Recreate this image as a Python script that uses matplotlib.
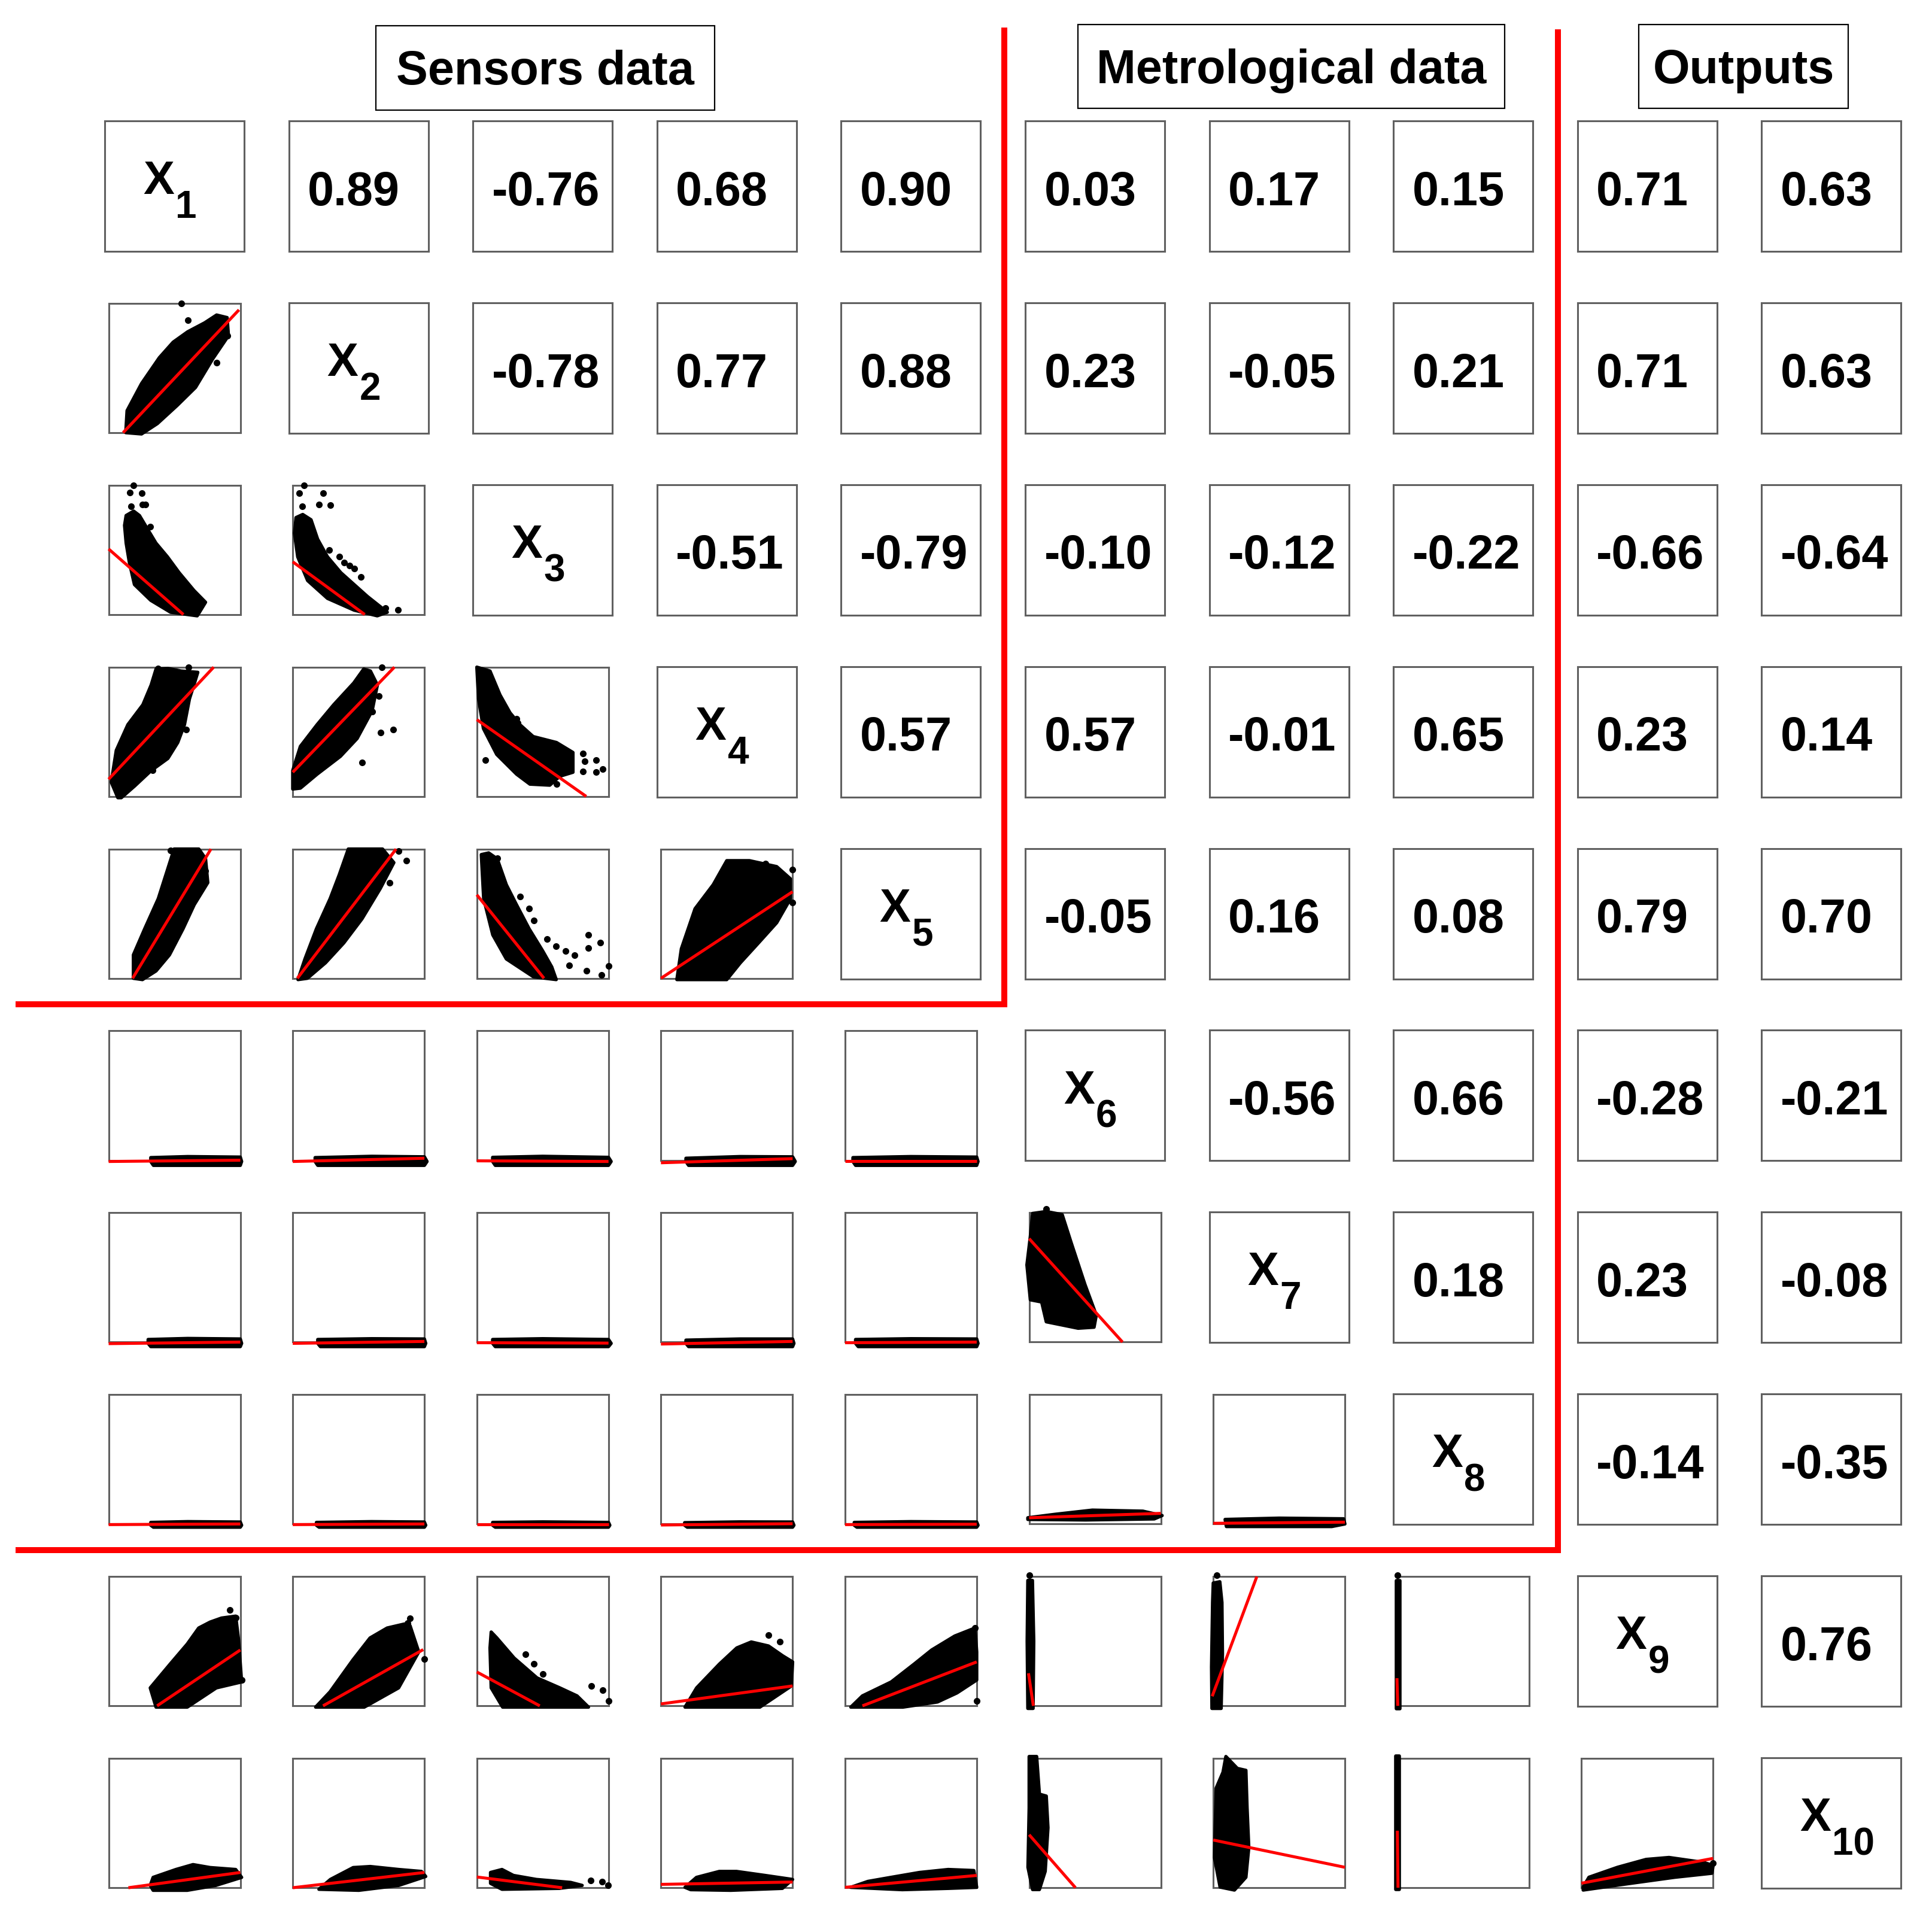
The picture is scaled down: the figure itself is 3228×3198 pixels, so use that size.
import matplotlib.pyplot as plt
from matplotlib.patches import Polygon, Rectangle

plt.rcParams['font.family'] = ['Liberation Sans', 'DejaVu Sans']
plt.rcParams['font.weight'] = 'bold'

W, H = 3228, 3198

# diagonal labels
var_subs = ['1', '2', '3', '4', '5', '6', '7', '8', '9', '10']

# upper triangle: correlation coefficients, row by row (columns right of the diagonal)
corr_r1 = [0.89, -0.76, 0.68, 0.90, 0.03, 0.17, 0.15, 0.71, 0.63]
corr_r2 = [-0.78, 0.77, 0.88, 0.23, -0.05, 0.21, 0.71, 0.63]
corr_r3 = [-0.51, -0.79, -0.10, -0.12, -0.22, -0.66, -0.64]
corr_r4 = [0.57, 0.57, -0.01, 0.65, 0.23, 0.14]
corr_r5 = [-0.05, 0.16, 0.08, 0.79, 0.70]
corr_r6 = [-0.56, 0.66, -0.28, -0.21]
corr_r7 = [0.18, 0.23, -0.08]
corr_r8 = [-0.14, -0.35]
corr_r9 = [0.76]
corr_rows = [corr_r1, corr_r2, corr_r3, corr_r4, corr_r5, corr_r6, corr_r7, corr_r8, corr_r9]

group_titles = ['Sensors data', 'Metrological data', 'Outputs']

# lower triangle: scaled scatter clouds (outline of the dense cloud, stray points,
# fitted line x0, y0, x1, y1), one entry per column left of the diagonal
hull_r2 = [[(0.13, 0.0), (0.14, 0.17), (0.25, 0.38), (0.385, 0.58), (0.49, 0.70), (0.6, 0.78), (0.73, 0.85),
            (0.82, 0.91), (0.9, 0.89), (0.91, 0.75), (0.79, 0.57), (0.66, 0.35), (0.52, 0.21), (0.37, 0.07),
            (0.25, -0.01)]]
dots_r2 = [[(0.55, 1.0), (0.60, 0.87), (0.82, 0.54), (0.9, 0.75), (0.66, 0.78)]]
fit_r2 = [(0.11, 0.0, 0.99, 0.95)]

hull_r3 = [[(0.133, 0.766), (0.121, 0.69), (0.133, 0.553), (0.158, 0.40), (0.196, 0.232), (0.32, 0.11),
            (0.47, 0.018), (0.673, -0.01), (0.736, 0.095), (0.648, 0.186), (0.535, 0.324), (0.447, 0.446),
            (0.359, 0.553), (0.296, 0.66), (0.234, 0.766), (0.19, 0.80)],
           [(0.025, 0.75), (0.013, 0.63), (0.038, 0.446), (0.113, 0.263), (0.264, 0.125), (0.466, 0.034),
            (0.642, -0.01), (0.718, 0.018), (0.567, 0.14), (0.466, 0.232), (0.365, 0.324), (0.264, 0.446),
            (0.189, 0.583), (0.139, 0.733), (0.076, 0.774)]]
dots_r3 = [[(0.188, 1.0), (0.163, 0.942), (0.251, 0.939), (0.171, 0.835), (0.259, 0.85), (0.28, 0.85),
            (0.314, 0.678)],
           [(0.088, 1.0), (0.05, 0.94), (0.232, 0.939), (0.071, 0.835), (0.2, 0.85), (0.285, 0.846),
            (0.277, 0.5), (0.353, 0.446), (0.39, 0.4), (0.43, 0.38), (0.466, 0.354), (0.516, 0.293),
            (0.705, 0.05), (0.8, 0.034)]]
fit_r3 = [(0.0, 0.507, 0.568, 0.0), (0.0, 0.408, 0.547, 0.0)]

hull_r4 = [[(0.07, -0.01), (0.02, 0.11), (0.058, 0.356), (0.146, 0.555), (0.26, 0.709), (0.323, 0.862),
            (0.36, 0.985), (0.45, 0.99), (0.55, 0.97), (0.677, 0.96), (0.652, 0.877), (0.614, 0.755),
            (0.576, 0.555), (0.525, 0.417), (0.45, 0.294), (0.323, 0.2), (0.197, 0.08), (0.096, -0.01)],
           [(0.0, 0.057), (0.0, 0.2), (0.058, 0.387), (0.185, 0.555), (0.311, 0.709), (0.463, 0.877),
            (0.539, 0.985), (0.59, 0.97), (0.643, 0.862), (0.603, 0.663), (0.489, 0.448), (0.362, 0.31),
            (0.185, 0.172), (0.058, 0.064)],
           [(0.0, 1.0), (0.013, 0.755), (0.05, 0.525), (0.151, 0.325), (0.302, 0.172), (0.403, 0.095),
            (0.554, 0.087), (0.63, 0.156), (0.73, 0.187), (0.73, 0.34), (0.605, 0.417), (0.428, 0.463),
            (0.327, 0.555), (0.252, 0.647), (0.176, 0.785), (0.1, 0.97)]]
dots_r4 = [[(0.606, 1.0), (0.374, 0.99), (0.588, 0.517), (0.336, 0.2)],
           [(0.678, 1.0), (0.653, 0.778), (0.603, 0.655), (0.666, 0.494), (0.762, 0.517), (0.527, 0.264)],
           [(0.063, 0.279), (0.806, 0.333), (0.819, 0.271), (0.907, 0.279), (0.957, 0.21), (0.806, 0.195),
            (0.907, 0.187), (0.605, 0.095), (0.3, 0.6), (0.31, 0.57)]]
fit_r4 = [(0.0, 0.133, 0.798, 1.0), (0.0, 0.187, 0.772, 1.0), (0.0, 0.594, 0.831, 0.0)]

hull_r5 = [[(0.188, 0.0), (0.188, 0.181), (0.274, 0.383), (0.377, 0.616), (0.445, 0.833), (0.497, 1.0),
            (0.685, 1.0), (0.736, 0.926), (0.753, 0.74), (0.65, 0.569), (0.565, 0.383), (0.462, 0.181),
            (0.36, 0.057), (0.257, -0.01)],
           [(0.04, -0.01), (0.093, 0.15), (0.18, 0.383), (0.284, 0.616), (0.353, 0.8), (0.422, 1.0),
            (0.682, 1.0), (0.768, 0.895), (0.664, 0.693), (0.526, 0.46), (0.388, 0.274), (0.249, 0.12),
            (0.111, 0.0)],
           [(0.034, 0.957), (0.052, 0.616), (0.121, 0.336), (0.224, 0.15), (0.431, 0.011), (0.603, -0.01),
            (0.569, 0.088), (0.5, 0.212), (0.397, 0.383), (0.293, 0.585), (0.224, 0.724), (0.155, 0.924),
            (0.09, 0.97)],
           [(0.121, -0.01), (0.155, 0.228), (0.259, 0.538), (0.397, 0.724), (0.5, 0.91), (0.672, 0.91),
            (0.879, 0.864), (0.983, 0.77), (0.983, 0.615), (0.879, 0.43), (0.741, 0.274), (0.603, 0.12),
            (0.5, -0.01)]]
dots_r5 = [[(0.469, 0.99), (0.736, 0.833)],
           [(0.474, 0.98), (0.803, 0.985), (0.865, 0.91), (0.734, 0.74)],
           [(0.155, 0.93), (0.328, 0.631), (0.397, 0.538), (0.431, 0.445), (0.534, 0.305), (0.6, 0.25),
            (0.672, 0.212), (0.741, 0.181), (0.845, 0.336), (0.938, 0.274), (0.845, 0.236), (1.0, 0.096),
            (0.834, 0.057), (0.948, 0.026), (0.7, 0.1)],
           [(0.793, 0.887), (1.0, 0.84), (1.0, 0.585)]]
fit_r5 = [(0.182, 0.0, 0.777, 1.0), (0.035, 0.0, 0.785, 1.0), (0.0, 0.646, 0.51, 0.0), (0.0, 0.0, 1.0, 0.67)]

hull_r6 = [[(0.32, 0.02), (0.6, 0.028), (1.0, 0.024), (1.01, -0.01), (1.0, -0.04), (0.34, -0.04), (0.32, -0.01)],
           [(0.17, 0.02), (0.6, 0.03), (1.0, 0.026), (1.02, -0.01), (1.0, -0.04), (0.19, -0.04), (0.17, -0.01)],
           [(0.12, 0.022), (0.5, 0.03), (1.0, 0.022), (1.02, -0.01), (1.0, -0.04), (0.14, -0.04), (0.12, -0.01)],
           [(0.19, 0.015), (0.6, 0.028), (1.0, 0.026), (1.02, -0.01), (1.0, -0.04), (0.21, -0.04), (0.19, -0.01)],
           [(0.06, 0.02), (0.5, 0.028), (1.0, 0.024), (1.01, -0.01), (1.0, -0.04), (0.08, -0.04), (0.06, -0.01)]]
dots_r6 = [[], [], [], [], []]
fit_r6 = [(0.0, -0.01, 1.0, 0.0), (0.0, -0.01, 1.0, 0.015), (0.0, -0.005, 1.0, -0.01),
          (0.0, -0.02, 1.0, 0.012), (0.0, -0.005, 1.0, -0.005)]

hull_r7 = [[(0.30, 0.02), (0.6, 0.028), (1.0, 0.024), (1.01, -0.01), (1.0, -0.035), (0.32, -0.035), (0.30, -0.01)],
           [(0.19, 0.02), (0.6, 0.026), (1.0, 0.024), (1.01, -0.01), (1.0, -0.035), (0.21, -0.035), (0.19, -0.01)],
           [(0.12, 0.02), (0.5, 0.026), (1.0, 0.02), (1.02, -0.01), (1.0, -0.035), (0.14, -0.035), (0.12, -0.01)],
           [(0.19, 0.015), (0.6, 0.024), (1.0, 0.024), (1.01, -0.01), (1.0, -0.035), (0.21, -0.035), (0.19, -0.01)],
           [(0.08, 0.02), (0.5, 0.026), (1.0, 0.024), (1.01, -0.01), (1.0, -0.035), (0.10, -0.035), (0.08, -0.01)],
           [(0.026, 0.995), (0.13, 1.01), (0.251, 0.986), (0.32, 0.766), (0.424, 0.445), (0.51, 0.208),
            (0.493, 0.115), (0.372, 0.107), (0.13, 0.157), (0.095, 0.31), (0.009, 0.327), (-0.017, 0.597),
            (0.009, 0.817)]]
dots_r7 = [[], [], [], [], [], [(0.13, 1.03)]]
fit_r7 = [(0.0, -0.012, 1.0, 0.0), (0.0, -0.01, 1.0, 0.005), (0.0, -0.005, 1.0, -0.008),
          (0.0, -0.015, 1.0, 0.005), (0.0, -0.005, 1.0, 0.0), (0.0, 0.8, 0.709, 0.0)]

hull_r8 = [[(0.32, 0.012), (0.6, 0.018), (1.0, 0.015), (1.01, -0.01), (1.0, -0.025), (0.34, -0.025), (0.32, -0.01)],
           [(0.18, 0.012), (0.6, 0.018), (1.0, 0.015), (1.01, -0.01), (1.0, -0.025), (0.20, -0.025), (0.18, -0.01)],
           [(0.12, 0.012), (0.5, 0.016), (1.0, 0.012), (1.01, -0.01), (1.0, -0.025), (0.14, -0.025), (0.12, -0.01)],
           [(0.18, 0.01), (0.6, 0.016), (1.0, 0.015), (1.01, -0.01), (1.0, -0.025), (0.20, -0.025), (0.18, -0.01)],
           [(0.07, 0.012), (0.5, 0.018), (1.0, 0.015), (1.01, -0.01), (1.0, -0.025), (0.09, -0.025), (0.07, -0.01)],
           [(-0.01, 0.048), (0.2, 0.075), (0.48, 0.107), (0.864, 0.099), (1.01, 0.065), (0.95, 0.039),
            (0.43, 0.031), (-0.01, 0.035)],
           [(0.09, 0.035), (0.5, 0.045), (0.99, 0.04), (1.0, 0.0), (0.9, -0.02), (0.1, -0.02)]]
dots_r8 = [[], [], [], [], [], [], []]
fit_r8 = [(0.0, -0.005, 1.0, 0.0), (0.0, -0.005, 1.0, 0.0), (0.0, -0.005, 1.0, -0.005),
          (0.0, -0.008, 1.0, 0.002), (0.0, -0.005, 1.0, -0.002), (0.0, 0.048, 1.0, 0.082),
          (0.0, 0.005, 1.0, 0.014)]

hull_r9 = [[(0.36, -0.01), (0.316, 0.139), (0.468, 0.324), (0.597, 0.478), (0.684, 0.602), (0.771, 0.648),
            (0.857, 0.679), (0.965, 0.694), (0.987, 0.509), (1.01, 0.185), (0.818, 0.139), (0.597, -0.01)],
           [(0.174, -0.01), (0.283, 0.108), (0.457, 0.355), (0.587, 0.525), (0.717, 0.602), (0.848, 0.633),
            (0.891, 0.62), (0.957, 0.417), (0.804, 0.139), (0.543, -0.01)],
           [(0.109, 0.571), (0.152, 0.525), (0.283, 0.37), (0.457, 0.216), (0.63, 0.139), (0.761, 0.077),
            (0.848, -0.01), (0.196, -0.01), (0.109, 0.139), (0.1, 0.448)],
           [(0.183, -0.01), (0.271, 0.139), (0.445, 0.324), (0.576, 0.448), (0.686, 0.494), (0.817, 0.463),
            (0.926, 0.386), (1.0, 0.34), (0.991, 0.154), (0.751, -0.01)],
           [(0.044, -0.01), (0.132, 0.077), (0.351, 0.185), (0.526, 0.324), (0.658, 0.432), (0.833, 0.54),
            (0.987, 0.602), (1.0, 0.417), (1.0, 0.2), (0.85, 0.1), (0.702, 0.03), (0.439, -0.01)],
           [(-0.01, 0.97), (0.025, 0.97), (0.035, 0.5), (0.03, -0.02), (-0.01, -0.02), (-0.015, 0.5)],
           [(0.0, 0.95), (0.05, 0.96), (0.066, 0.8), (0.07, 0.4), (0.06, -0.02), (-0.01, -0.02),
            (-0.013, 0.3), (-0.005, 0.8)],
           [(-0.01, 0.97), (0.02, 0.97), (0.02, -0.02), (-0.01, -0.02)]]
dots_r9 = [[(0.922, 0.741), (0.965, 0.68), (1.01, 0.2)],
           [(0.891, 0.679), (0.87, 0.64), (1.0, 0.363)],
           [(0.37, 0.401), (0.435, 0.324), (0.5, 0.247), (0.87, 0.154), (0.957, 0.123), (1.0, 0.039)],
           [(0.817, 0.548), (0.904, 0.494)],
           [(0.987, 0.602), (0.877, 0.139), (1.0, 0.04)],
           [(0.003, 1.01)],
           [(0.026, 1.01)],
           [(0.0, 1.01)]]
fit_r9 = [(0.368, 0.0, 1.0, 0.432), (0.23, 0.0, 0.991, 0.435), (0.0, 0.262, 0.478, 0.0),
          (0.0, 0.015, 1.0, 0.154), (0.132, 0.0, 1.0, 0.34), (-0.005, 0.252, 0.032, 0.0),
          (-0.008, 0.074, 0.331, 1.0), (-0.003, 0.214, 0.003, 0.0)]

hull_r10 = [[(0.316, 0.018), (0.338, 0.08), (0.511, 0.141), (0.641, 0.179), (0.771, 0.156), (0.965, 0.141),
             (1.01, 0.08), (0.814, 0.018), (0.597, -0.02), (0.338, -0.02)],
            [(0.199, -0.012), (0.286, 0.064), (0.459, 0.156), (0.589, 0.164), (0.805, 0.141), (0.978, 0.126),
             (1.01, 0.087), (0.805, 0.018), (0.502, -0.02)],
            [(0.104, 0.118), (0.191, 0.141), (0.278, 0.095), (0.452, 0.064), (0.713, 0.041), (0.8, 0.018),
             (0.626, -0.005), (0.191, -0.012), (0.104, 0.034)],
            [(0.183, 0.003), (0.27, 0.08), (0.443, 0.126), (0.574, 0.126), (0.791, 0.095), (1.0, 0.064),
             (0.922, -0.005), (0.53, -0.02), (0.226, -0.015)],
            [(0.043, 0.003), (0.174, 0.049), (0.348, 0.08), (0.565, 0.118), (0.783, 0.141), (0.978, 0.133),
             (1.0, 0.003), (0.783, -0.005), (0.435, -0.015)],
            [(0.0, 1.015), (0.057, 1.015), (0.078, 0.724), (0.13, 0.709), (0.143, 0.464), (0.122, 0.127),
             (0.078, -0.014), (0.026, -0.014), (-0.009, 0.158), (0.0, 0.617)],
            [(0.096, 1.015), (0.183, 0.923), (0.248, 0.908), (0.257, 0.617), (0.27, 0.311), (0.248, 0.081),
             (0.161, -0.018), (0.052, 0.005), (0.009, 0.234), (0.022, 0.77), (0.074, 0.893)],
            [(-0.013, 1.02), (0.013, 1.02), (0.013, -0.015), (-0.013, -0.015)],
            [(0.013, 0.005), (0.057, 0.081), (0.274, 0.158), (0.491, 0.219), (0.665, 0.234), (0.926, 0.196),
             (1.0, 0.173), (0.991, 0.112), (0.709, 0.081), (0.274, 0.02), (0.013, -0.018)]]
dots_r10 = [[], [], [(0.865, 0.057), (0.952, 0.049), (0.996, 0.018)], [], [], [], [], [], [(1.0, 0.19)]]
fit_r10 = [(0.15, 0.0, 1.0, 0.118), (0.0, 0.0, 1.0, 0.118), (0.0, 0.083, 0.648, 0.0),
           (0.0, 0.026, 1.0, 0.044), (0.0, 0.003, 1.0, 0.095), (0.0, 0.41, 0.352, 0.0),
           (0.0, 0.369, 1.0, 0.158), (0.0, 0.441, 0.005, 0.0), (0.0, 0.035, 1.0, 0.227)]

scatter_rows = {2: (hull_r2, dots_r2, fit_r2), 3: (hull_r3, dots_r3, fit_r3),
                4: (hull_r4, dots_r4, fit_r4), 5: (hull_r5, dots_r5, fit_r5),
                6: (hull_r6, dots_r6, fit_r6), 7: (hull_r7, dots_r7, fit_r7),
                8: (hull_r8, dots_r8, fit_r8), 9: (hull_r9, dots_r9, fit_r9),
                10: (hull_r10, dots_r10, fit_r10)}

# grid geometry in pixels
X0, DX, BW = 175, 307.6, 233
Y0, DY, BH = 202, 303.9, 218
EDGE = '#606060'

fig = plt.figure(figsize=(W / 100, H / 100), dpi=100)

# overlay axes in pixel coordinates for group titles and separators
ov = fig.add_axes([0, 0, 1, 1])
ov.set_xlim(0, W)
ov.set_ylim(H, 0)
ov.axis('off')

title_boxes = [(628, 43, 566, 141), (1801, 41, 713, 140), (2738, 41, 350, 140)]
for name, (bx, by, bw, bh) in zip(group_titles, title_boxes):
    ov.add_patch(Rectangle((bx, by), bw, bh, fill=False, ec='black', lw=1.6))
    ov.text(bx + bw / 2, by + bh / 2 + 28, name, ha='center', va='baseline',
            fontsize=57, fontweight='bold')

ov.plot([31, 1678, 1678], [1678, 1678, 51], color='#ff0000', lw=7.2, solid_joinstyle='miter')
ov.plot([31, 2603, 2603], [2590, 2590, 54], color='#ff0000', lw=7.2, solid_joinstyle='miter')


def panel(r, c, hin=0.0, vin=0.0):
    left = X0 + c * DX + hin
    top = Y0 + r * DY + vin
    w = BW - 2 * hin
    h = BH - 2 * vin
    ax = fig.add_axes([left / W, 1 - (top + h) / H, w / W, h / H])
    ax.set_xlim(0, 1)
    ax.set_ylim(0, 1)
    ax.set_xticks([])
    ax.set_yticks([])
    for s in ax.spines.values():
        s.set_color(EDGE)
        s.set_linewidth(2.2)
    return ax


for r in range(10):
    for c in range(10):
        if r == c:
            ax = panel(r, c)
            ax.text(0.386, 0.44, 'X', ha='center', va='baseline', fontsize=56, fontweight='bold')
            ax.text(0.506, 0.257, var_subs[r], ha='left', va='baseline', fontsize=46, fontweight='bold')
        elif c > r:
            ax = panel(r, c)
            val = corr_rows[r][c - r - 1]
            ax.text(0.135, 0.355, f'{val:.2f}', ha='left', va='baseline', fontsize=57, fontweight='bold')
        else:
            ax = panel(r, c, hin=6.5, vin=1.0)
            hulls, dots, fits = scatter_rows[r + 1]
            ax.add_patch(Polygon(hulls[c], closed=True, fc='black', ec='black', lw=4,
                                 joinstyle='round', clip_on=False, zorder=3))
            if dots[c]:
                ax.plot([p[0] for p in dots[c]], [p[1] for p in dots[c]], 'o', color='black',
                        ms=7, clip_on=False, zorder=3)
            x0, y0, x1, y1 = fits[c]
            ax.plot([x0, x1], [y0, y1], color='#ff0000', lw=3.6, clip_on=False, zorder=4,
                    solid_capstyle='butt')

fig.savefig('out.png', dpi=100, facecolor='white')
